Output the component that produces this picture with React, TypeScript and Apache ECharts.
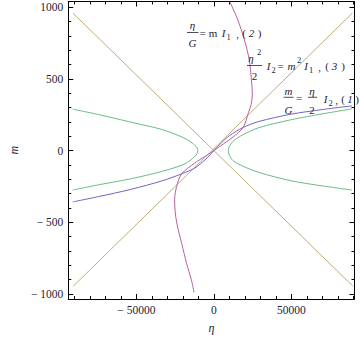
import React, { useEffect, useRef } from "react";
import * as echarts from "echarts";

// ---- data (η, m) ----
const xMajorTicks = [-50000, 0, 50000];
const xMinorTicks = [-90000, -80000, -70000, -60000, -40000, -30000, -20000, -10000, 10000, 20000, 30000, 40000, 60000, 70000, 80000, 90000];
const yMajorTicks = [-1000, -500, 0, 500, 1000];
const yMinorTicks = [-900, -800, -700, -600, -400, -300, -200, -100, 100, 200, 300, 400, 600, 700, 800, 900];

const tanLineA: [number, number][] = [[-90800, 958], [89700, -946]];
const tanLineB: [number, number][] = [[-90800, -947], [89400, 960]];

const greenLeft: [number, number][] = [
  [-91000, 289], [-74500, 252], [-53750, 199], [-33100, 146], [-18600, 85], [-12400, 40], [-10900, 20],
  [-10300, 0], [-10900, -21], [-12400, -42], [-18600, -92], [-33100, -144], [-53750, -197], [-74500, -239], [-91000, -275],
];
const greenRight: [number, number][] = [
  [89000, 291], [70400, 257], [49700, 215], [29000, 160], [18600, 110], [12400, 65], [10000, 30],
  [9300, 0], [10000, -32], [12400, -70], [18600, -108], [29000, -152], [49700, -210], [70400, -247], [89000, -275],
];
const blueCurve: [number, number][] = [
  [-91000, -358], [-74500, -321], [-53750, -271], [-33100, -210], [-20800, -162], [-12400, -122], [-5000, -58],
  [0, 0], [5000, 56], [10000, 104], [18900, 162], [29000, 203], [49700, 254], [70400, 287], [89000, 312],
];
const magentaCurve: [number, number][] = [
  [10400, 1036], [15500, 910], [19700, 772], [22800, 635], [24200, 497], [24800, 390], [24000, 320], [22300, 265],
  [18900, 162], [12400, 95], [4200, 32], [0, 0], [-4200, -30], [-12400, -88], [-20800, -162], [-24000, -250],
  [-25300, -340], [-25000, -420], [-23800, -512], [-20700, -649], [-17600, -787], [-14500, -901], [-12800, -988],
];

const X_MIN = -93900;
const X_MAX = 90700;
const Y_MIN = -1035;
const Y_MAX = 1040;

const FONT = "Liberation Serif";
const TXT = "#1f2238";
const TAN = "#c2ad78";
const GREEN = "#6dbb88";
const BLUE = "#6f66c2";
const MAGENTA = "#b8619c";

const fmt = (v: number) => (v < 0 ? "\u2212 " + Math.abs(v) : String(v));

function T(x: number, y: number, text: string, italic = false, size = 11) {
  return {
    type: "text",
    x,
    y,
    silent: true,
    z: 100,
    style: {
      text,
      fontFamily: FONT,
      fontSize: size,
      fontStyle: italic ? "italic" : "normal",
      fill: TXT,
      align: "center",
      verticalAlign: "middle",
      textAlign: "center",
      textVerticalAlign: "middle",
    },
  };
}
function Bar(x1: number, x2: number, y: number) {
  return { type: "line", silent: true, z: 100, shape: { x1, y1: y, x2, y2: y }, style: { stroke: TXT, lineWidth: 0.8 } };
}

function xAxisDef(position: "bottom" | "top", ticks: number[], len: number, labels: boolean, line: boolean) {
  return {
    type: "value",
    position,
    min: X_MIN,
    max: X_MAX,
    splitLine: { show: false },
    axisLine: { show: line, onZero: false, lineStyle: { color: "#000", width: 1 } },
    axisTick: { show: true, inside: true, length: len, customValues: ticks, lineStyle: { color: "#000", width: 1 } },
    axisLabel: labels
      ? { show: true, customValues: ticks, formatter: fmt, fontFamily: FONT, fontSize: 11.5, color: TXT, margin: 5 }
      : { show: false },
    ...(labels && position === "bottom" && line
      ? { name: "η", nameLocation: "middle", nameGap: 23, nameTextStyle: { fontFamily: FONT, fontStyle: "italic", fontSize: 12, color: TXT } }
      : {}),
  };
}
function yAxisDef(position: "left" | "right", ticks: number[], len: number, labels: boolean, line: boolean) {
  return {
    type: "value",
    position,
    min: Y_MIN,
    max: Y_MAX,
    splitLine: { show: false },
    axisLine: { show: line, onZero: false, lineStyle: { color: "#000", width: 1 } },
    axisTick: { show: true, inside: true, length: len, customValues: ticks, lineStyle: { color: "#000", width: 1 } },
    axisLabel: labels
      ? { show: true, customValues: ticks, formatter: fmt, fontFamily: FONT, fontSize: 11.5, color: TXT, margin: 5 }
      : { show: false },
    ...(labels && position === "left" && line
      ? { name: "m", nameLocation: "middle", nameGap: 45, nameTextStyle: { fontFamily: FONT, fontStyle: "italic", fontSize: 12, color: TXT } }
      : {}),
  };
}

function lineSeries(data: [number, number][], color: string, smooth: number | boolean) {
  return {
    type: "line",
    xAxisIndex: 0,
    yAxisIndex: 0,
    data,
    showSymbol: false,
    symbol: "none",
    smooth,
    lineStyle: { color, width: 1 },
    silent: true,
  };
}

export default function App() {
  const ref = useRef<HTMLDivElement>(null);
  useEffect(() => {
    if (!ref.current) return;
    const chart = echarts.init(ref.current, undefined, { renderer: "svg" });
    const graphics: any[] = [
      // label (2): η/G = m I1 , ( 2 )
      T(192.5, 25, "η", true),
      Bar(187, 198.5, 32.5),
      T(192.5, 42.5, "G", true),
      T(202.5, 33, "="),
      T(213, 33, "m"),
      T(223.5, 33, "I", true),
      T(228.5, 37, "1", false, 8.5),
      T(237.5, 34, ","),
      T(244, 33, "("),
      T(251.5, 33, "2", true),
      T(259.5, 33, ")"),
      // label (3): η²/2 I2 = m² I1 , ( 3 )
      T(251, 58, "η", true),
      T(259, 52, "2", false, 8.5),
      Bar(247, 262, 65.5),
      T(254.5, 75.5, "2"),
      T(268.5, 66, "I", true),
      T(273.5, 70, "2", false, 8.5),
      T(280.5, 66, "="),
      T(291.5, 66, "m", true),
      T(299, 59.5, "2", false, 8.5),
      T(306, 66, "I", true),
      T(311, 70, "1", false, 8.5),
      T(319.5, 67, ","),
      T(327, 66, "("),
      T(334.5, 66, "3", true),
      T(343, 66, ")"),
      // label (1): m/G = η/2 I2 , (1)
      T(288.5, 90.5, "m", true),
      Bar(283.5, 293.5, 97.3),
      T(288.5, 109.5, "G", true),
      T(299, 97.5, "="),
      T(312, 90.5, "η", true),
      Bar(308, 317, 97.3),
      T(312, 109.5, "2"),
      T(325.5, 98.5, "I", true),
      T(330.5, 102.5, "2", false, 8.5),
      T(336.5, 100, ","),
      T(343, 98.5, "("),
      T(350, 98.5, "1", true),
      T(357, 98.5, ")"),
    ];
    chart.setOption({
      animation: false,
      backgroundColor: "#fff",
      grid: { left: 57, right: 5.5, top: 1.5, bottom: 36.3, containLabel: false },
      xAxis: [
        xAxisDef("bottom", xMajorTicks, 5, true, true),
        xAxisDef("top", xMajorTicks, 5, false, true),
        xAxisDef("bottom", xMinorTicks, 3, false, false),
        xAxisDef("top", xMinorTicks, 3, false, false),
      ],
      yAxis: [
        yAxisDef("left", yMajorTicks, 5, true, true),
        yAxisDef("right", yMajorTicks, 5, false, true),
        yAxisDef("left", yMinorTicks, 3, false, false),
        yAxisDef("right", yMinorTicks, 3, false, false),
      ],
      series: [
        lineSeries(tanLineA, TAN, false),
        lineSeries(tanLineB, TAN, false),
        lineSeries(greenLeft, GREEN, 0.3),
        lineSeries(greenRight, GREEN, 0.3),
        lineSeries(blueCurve, BLUE, 0.3),
        lineSeries(magentaCurve, MAGENTA, 0.3),
      ],
      graphic: { elements: graphics },
    });
    return () => chart.dispose();
  }, []);
  return <div ref={ref} style={{ position: "fixed", left: 0, top: 0, width: 360, height: 339, background: "#fff" }} />;
}
